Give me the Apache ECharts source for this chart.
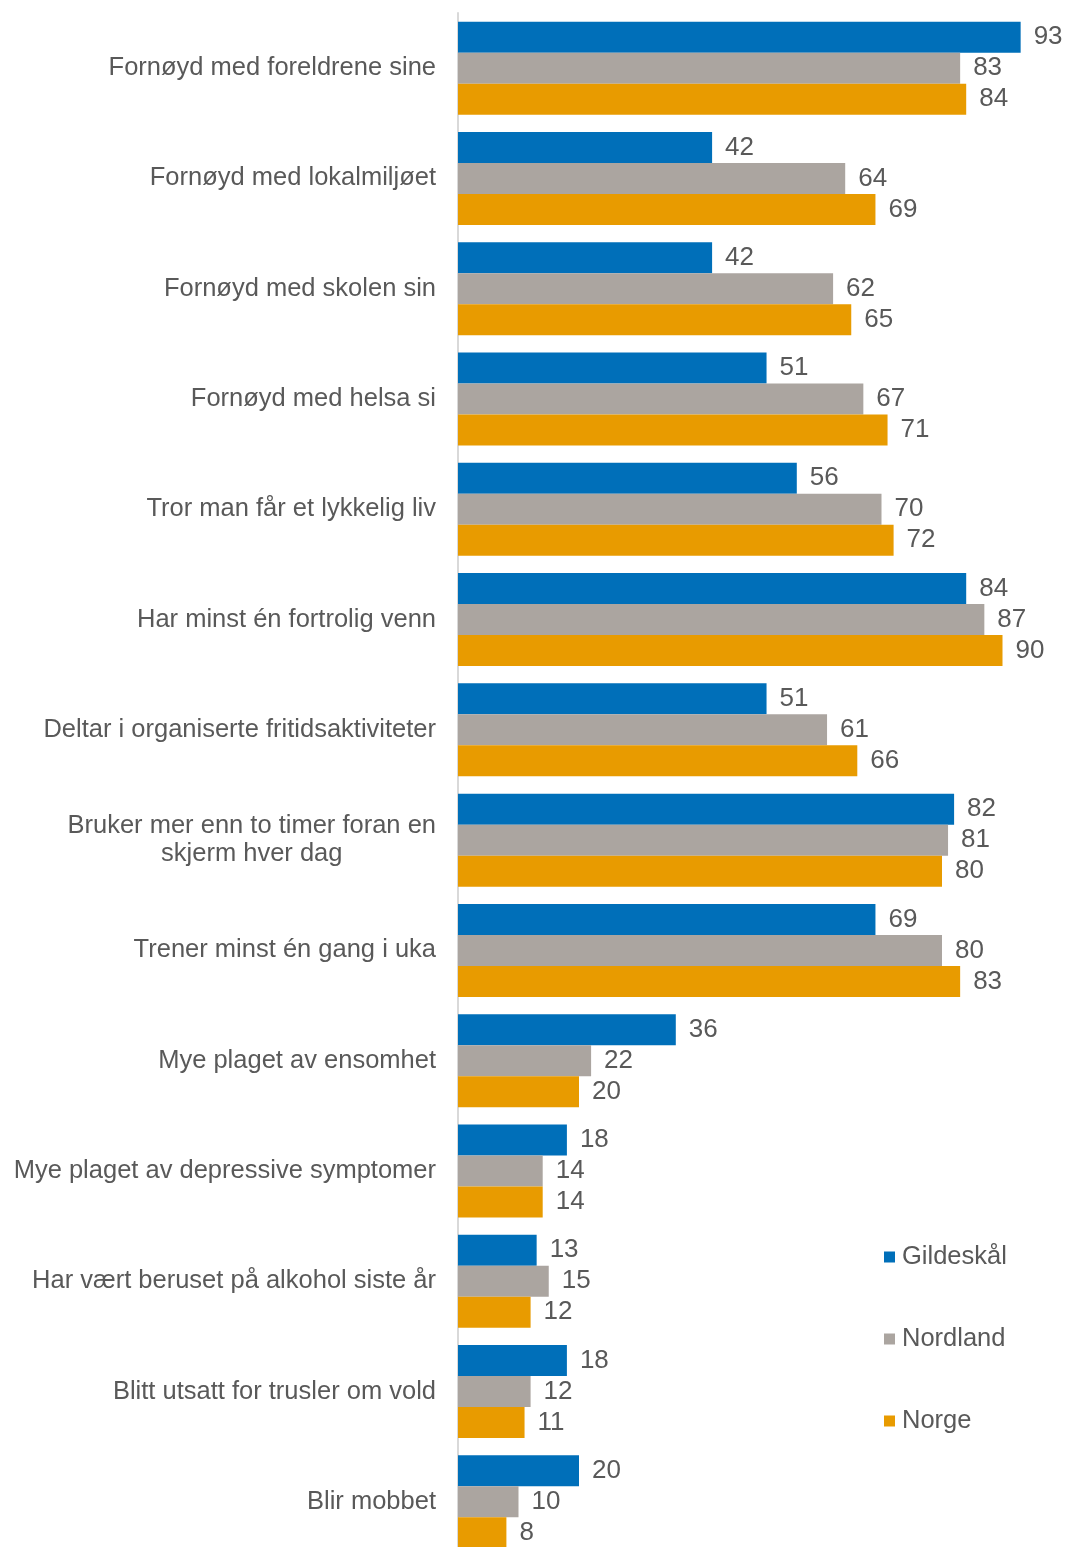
<!DOCTYPE html>
<html>
<head>
<meta charset="utf-8">
<script src="https://cdn.jsdelivr.net/npm/echarts@6/dist/echarts.min.js"></script>
<style>
html,body{margin:0;padding:0;background:#fff;overflow:hidden;}
#chart{width:1069px;height:1560px;}
</style>
</head>
<body>
<div id="chart"></div>
<script>
const categories = [
  "Fornøyd med foreldrene sine",
  "Fornøyd med lokalmiljøet",
  "Fornøyd med skolen sin",
  "Fornøyd med helsa si",
  "Tror man får et lykkelig liv",
  "Har minst én fortrolig venn",
  "Deltar i organiserte fritidsaktiviteter",
  "Bruker mer enn to timer foran en\nskjerm hver dag",
  "Trener minst én gang i uka",
  "Mye plaget av ensomhet",
  "Mye plaget av depressive symptomer",
  "Har vært beruset på alkohol siste år",
  "Blitt utsatt for trusler om vold",
  "Blir mobbet"
];
const gildeskal = [93, 42, 42, 51, 56, 84, 51, 82, 69, 36, 18, 13, 18, 20];
const nordland  = [83, 64, 62, 67, 70, 87, 61, 81, 80, 22, 14, 15, 12, 10];
const norge     = [84, 69, 65, 71, 72, 90, 66, 80, 83, 20, 14, 12, 11, 8];
const seriesNames = ["Gildeskål", "Nordland", "Norge"];

const FONT = '"Liberation Sans", Arial, sans-serif';
const TXT = '#595959';
const colors = ['#006FB9', '#ABA5A0', '#E89B00'];

const chart = echarts.init(document.getElementById('chart'), null, {renderer: 'canvas'});
function mk(name, data, color) {
  return {
    name: name, type: 'bar', data: data,
    barWidth: 31, barGap: '0%',
    itemStyle: {color: color},
    label: {show: true, position: 'right', distance: 13, color: TXT, fontSize: 26, fontFamily: FONT},
    animation: false
  };
}
chart.setOption({
  animation: false,
  backgroundColor: '#fff',
  color: colors,
  grid: {left: 458, width: 605, top: 13, height: 1544, containLabel: false},
  xAxis: {type: 'value', min: 0, max: 100, show: false, splitLine: {show: false}},
  yAxis: {
    type: 'category', data: categories, inverse: true,
    axisLine: {show: true, lineStyle: {color: '#D9D9D9', width: 2}},
    axisTick: {show: false},
    axisLabel: {
      margin: 22, color: TXT, fontSize: 25.5, fontFamily: FONT, lineHeight: 28,
      formatter: function (v) {
        if (v.indexOf('\n') >= 0) {
          return v.split('\n').map(s => '{c|' + s + '}').join('\n');
        }
        return v;
      },
      rich: {c: {align: 'center', fontSize: 25.5, fontFamily: FONT, color: TXT, lineHeight: 28}}
    }
  },
  legend: {
    orient: 'vertical', left: 879, top: 1239,
    itemWidth: 11, itemHeight: 11, itemGap: 56, icon: 'rect',
    textStyle: {color: TXT, fontSize: 25.5, fontFamily: FONT, padding: [0,0,0,2]},
    data: seriesNames
  },
  series: [
    mk(seriesNames[0], gildeskal, colors[0]),
    mk(seriesNames[1], nordland, colors[1]),
    mk(seriesNames[2], norge, colors[2])
  ]
});
</script>
</body>
</html>
